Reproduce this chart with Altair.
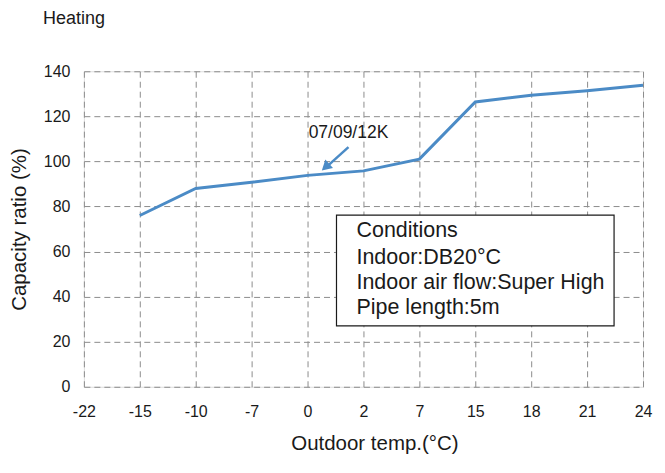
import altair as alt
import pandas as pd

# Data
categories = ["-22", "-15", "-10", "-7", "0", "2", "7", "15", "18", "21", "24"]
line_temps = ["-15", "-10", "-7", "0", "2", "7", "15", "18", "21", "24"]
line_ratio = [76, 88, 90.7, 93.8, 95.8, 101, 126.4, 129.4, 131.4, 133.8]
y_ticks = [0, 20, 40, 60, 80, 100, 120, 140]
conditions = ["Conditions", "Indoor:DB20°C", "Indoor air flow:Super High", "Pipe length:5m"]
series_label = "07/09/12K"
chart_title = "Heating"

FONT = "Liberation Sans"
LINE_COLOR = "#4b8bc6"
TXT = "#1a1a1a"

df = pd.DataFrame({"temp": line_temps, "ratio": line_ratio})

W, H = 560, 316

x_enc = alt.X(
    "temp:O",
    scale=alt.Scale(domain=categories, type="point", padding=0),
    sort=categories,
    axis=alt.Axis(
        title="Outdoor temp.(°C)", labelAngle=0, labelFontSize=16, titleFontSize=20.5,
        labelPadding=17, titlePadding=14, ticks=False, domain=False,
        grid=True, gridDash=[6, 4], gridColor="#8c8c8c", gridWidth=1,
        labelFont=FONT, titleFont=FONT, labelColor=TXT, titleColor=TXT,
        titleFontWeight="normal", titleX=291,
    ),
)
y_enc = alt.Y(
    "ratio:Q",
    scale=alt.Scale(domain=[0, 140], nice=False, zero=True),
    axis=alt.Axis(
        title="Capacity ratio (%)", values=y_ticks, labelFontSize=16, titleFontSize=20.5,
        labelPadding=14, titlePadding=14, ticks=False, domain=False,
        grid=True, gridDash=[6, 4], gridColor="#8c8c8c", gridWidth=1,
        labelFont=FONT, titleFont=FONT, labelColor=TXT, titleColor=TXT,
        titleFontWeight="normal",
    ),
)

line = alt.Chart(df).mark_line(color=LINE_COLOR, strokeWidth=3).encode(x=x_enc, y=y_enc)

anno_df = pd.DataFrame({"t": [0]})
base = alt.Chart(anno_df)

label = base.mark_text(fontSize=17.5, font=FONT, color=TXT, align="center", baseline="middle").encode(
    x=alt.value(265), y=alt.value(62), text=alt.value(series_label)
)
arrow_shaft = base.mark_rule(color=LINE_COLOR, strokeWidth=2.5).encode(
    x=alt.value(265), y=alt.value(76), x2=alt.value(245), y2=alt.value(94)
)
arrow_head = base.mark_point(shape="triangle-up", filled=True, color=LINE_COLOR, size=130, opacity=1, angle=228).encode(
    x=alt.value(242), y=alt.value(96)
)

box = base.mark_rect(fill="white", stroke=TXT, strokeWidth=1.2).encode(
    x=alt.value(253), x2=alt.value(531), y=alt.value(144), y2=alt.value(255)
)
cond_df = pd.DataFrame({"line": conditions, "ypix": [160, 187, 212, 237]})
cond_text = alt.Chart(cond_df).mark_text(fontSize=21.5, font=FONT, color=TXT, align="left", baseline="middle").encode(
    x=alt.value(273), y=alt.Y("ypix:Q", scale=None), text="line:N"
)

title_text = base.mark_text(fontSize=18, font=FONT, color=TXT, align="left", baseline="middle").encode(
    x=alt.value(-41), y=alt.value(-52), text=alt.value(chart_title)
)

chart = alt.layer(line, arrow_shaft, arrow_head, label, box, cond_text, title_text).properties(
    width=W, height=H,
    autosize=alt.AutoSizeParams(type="none"),
    padding={"left": 76, "top": 63, "right": 14, "bottom": 80},
).configure_view(stroke="#333333", strokeWidth=1.2).configure(background="white")

chart.save("out.html", embed_options={"renderer": "svg", "actions": False})
